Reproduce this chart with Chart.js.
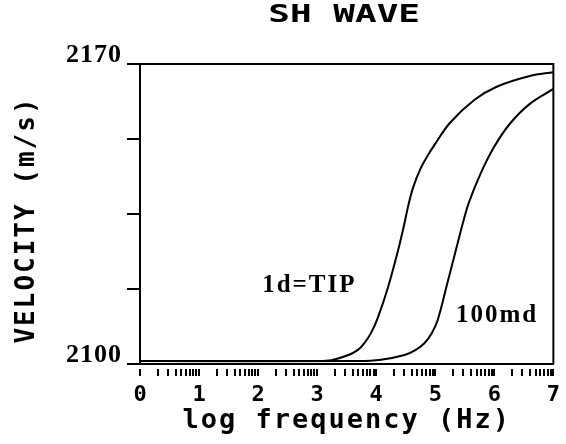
<!DOCTYPE html>
<html>
<head>
<meta charset="utf-8">
<title>SH WAVE</title>
<script src="https://cdn.jsdelivr.net/npm/chart.js@4/dist/chart.umd.min.js"></script>
<style>
  html, body { margin: 0; padding: 0; background: #fff; }
  canvas { display: block; }
</style>
</head>
<body>
<canvas id="c" width="566" height="444"></canvas>
<script>
// Dispersion of SH-wave velocity against log frequency
const seriesNames = ['1d=TIP', '100md'];

const logFreqTip = [0, 2.99, 3.24, 3.53, 3.69, 3.79, 3.91, 4.03, 4.20, 4.37, 4.47, 4.55, 4.63, 4.75, 4.87, 4.99, 5.25, 5.66, 6.04, 6.60, 7.0];
const velTip     = [2100.7, 2100.7, 2100.9, 2102.1, 2103.3, 2104.7, 2107.2, 2110.9, 2117.9, 2126.5, 2132.3, 2137.4, 2141.4, 2145.6, 2148.6, 2151.2, 2156.3, 2161.6, 2164.7, 2167.2, 2168.1];

const logFreq100 = [0, 3.69, 4.08, 4.48, 4.67, 4.82, 4.94, 5.04, 5.20, 5.37, 5.47, 5.57, 5.76, 5.99, 6.26, 6.60, 7.0];
const vel100     = [2100.7, 2100.7, 2101.0, 2102.1, 2103.3, 2104.9, 2107.2, 2110.2, 2118.6, 2127.7, 2133.0, 2137.7, 2144.2, 2150.5, 2156.0, 2160.7, 2164.2];

const xTickLabels = ['0', '1', '2', '3', '4', '5', '6', '7'];
const yTickLabels = ['2100', '2170'];

// log-cycle tick marks: 1..9 within every decade of the axis
const xTickValues = [];
for (let n = 0; n < xTickLabels.length - 1; n++) {
  for (let k = 1; k <= 9; k++) xTickValues.push(n + Math.log10(k));
}
xTickValues.push(xTickLabels.length - 1);

const toPoints = (xs, ys) => xs.map((x, i) => ({ x, y: ys[i] }));

// Wraps a drawing method so it runs with extra canvas state (spacing, stretch).
function wrapDraw(obj, method, setup) {
  const flag = '__wrapped_' + method;
  if (!obj || obj[flag]) return;
  const orig = obj[method];
  obj[method] = function (...args) {
    const ctx = this.ctx;
    ctx.save();
    setup(ctx, this);
    orig.apply(this, args);
    ctx.restore();
  };
  obj[flag] = true;
}

const textStyling = {
  id: 'textStyling',
  afterLayout(chart) {
    wrapDraw(chart.titleBlock, 'draw', (ctx, box) => {
      const cx = (box.left + box.right) / 2 + 5;
      ctx.translate(cx, 0);
      ctx.scale(1.5, 1);
      ctx.translate(-cx, 0);
    });
    wrapDraw(chart.scales.x, 'drawTitle', (ctx) => { ctx.letterSpacing = '2px'; });
    wrapDraw(chart.scales.x, 'drawLabels', (ctx) => { ctx.letterSpacing = '0px'; });
    wrapDraw(chart.scales.y, 'drawTitle', (ctx) => { ctx.letterSpacing = '2px'; ctx.translate(0, 6); });
    wrapDraw(chart.scales.y, 'drawLabels', (ctx) => { ctx.letterSpacing = '1px'; });
  }
};

// Top and right edges of the plot frame
const frame = {
  id: 'frame',
  afterDraw(chart) {
    const { ctx, chartArea: a } = chart;
    ctx.save();
    ctx.strokeStyle = '#000';
    ctx.lineWidth = 2;
    ctx.beginPath();
    ctx.moveTo(a.left, a.top);
    ctx.lineTo(a.right, a.top);
    ctx.lineTo(a.right, a.bottom);
    ctx.stroke();
    ctx.restore();
  }
};

// Curve names written next to each curve
const curveNotes = [
  { text: seriesNames[0], x: 2.85, y: 2118.4 },
  { text: seriesNames[1], x: 6.03, y: 2111.4 }
];
const notes = {
  id: 'notes',
  afterDatasetsDraw(chart) {
    const { ctx, scales: { x, y } } = chart;
    ctx.save();
    ctx.fillStyle = '#000';
    ctx.font = 'bold 25px "Liberation Serif", serif';
    ctx.letterSpacing = '2px';
    ctx.textAlign = 'center';
    ctx.textBaseline = 'middle';
    curveNotes.forEach(n => ctx.fillText(n.text, x.getPixelForValue(n.x) + 1, y.getPixelForValue(n.y)));
    ctx.restore();
  }
};

const lineStyle = {
  borderColor: '#000',
  borderWidth: 2,
  pointRadius: 0,
  fill: false,
  tension: 0.35
};

new Chart(document.getElementById('c'), {
  type: 'line',
  data: {
    datasets: [
      { label: seriesNames[0], data: toPoints(logFreqTip, velTip), ...lineStyle },
      { label: seriesNames[1], data: toPoints(logFreq100, vel100), ...lineStyle }
    ]
  },
  options: {
    responsive: false,
    devicePixelRatio: 1,
    animation: false,
    layout: { padding: { left: 0, right: 9, top: 0, bottom: 0 } },
    plugins: {
      legend: { display: false },
      tooltip: { enabled: false },
      title: {
        display: true,
        fullSize: false,
        text: 'SH WAVE',
        color: '#000',
        font: { family: '"DejaVu Sans Mono", monospace', size: 24, weight: 'bold', lineHeight: 1 },
        padding: { top: 4, bottom: 36 }
      }
    },
    scales: {
      x: {
        type: 'linear',
        min: 0,
        max: 7,
        afterBuildTicks: (scale) => { scale.ticks = xTickValues.map(v => ({ value: v })); },
        afterFit: (scale) => { scale.height = 80; },
        ticks: {
          autoSkip: false,
          maxRotation: 0,
          minRotation: 0,
          padding: 6,
          color: '#000',
          font: { family: '"DejaVu Sans Mono", monospace', size: 22, weight: 'bold' },
          callback: (v) => Number.isInteger(v) ? xTickLabels[v] : ''
        },
        grid: {
          drawOnChartArea: false,
          drawTicks: true,
          tickLength: 12,
          color: '#000',
          lineWidth: 2,
          tickBorderDash: [0, 4, 9, 40]
        },
        border: { display: true, color: '#000', width: 2 },
        title: {
          display: true,
          text: 'log frequency (Hz)',
          color: '#000',
          font: { family: '"DejaVu Sans Mono", monospace', size: 27, weight: 'bold', lineHeight: 1 },
          padding: { top: 0, bottom: 10 }
        }
      },
      y: {
        type: 'linear',
        min: 2100,
        max: 2170,
        afterFit: (scale) => { scale.width = 140; },
        ticks: {
          stepSize: 17.5,
          padding: 5,
          labelOffset: -9,
          color: '#000',
          font: { family: '"Liberation Serif", serif', size: 26, weight: 'bold' },
          callback: (v) => yTickLabels.includes(String(v)) ? String(v) : ''
        },
        grid: {
          drawOnChartArea: false,
          drawTicks: true,
          tickLength: 13,
          color: '#000',
          lineWidth: 2
        },
        border: { display: true, color: '#000', width: 2 },
        title: {
          display: true,
          text: 'VELOCITY (m/s)',
          color: '#000',
          font: { family: '"DejaVu Sans Mono", monospace', size: 26, weight: 'bold', lineHeight: 1 },
          padding: { top: 14, bottom: 0 }
        }
      }
    }
  },
  plugins: [textStyling, frame, notes]
});
</script>
</body>
</html>
